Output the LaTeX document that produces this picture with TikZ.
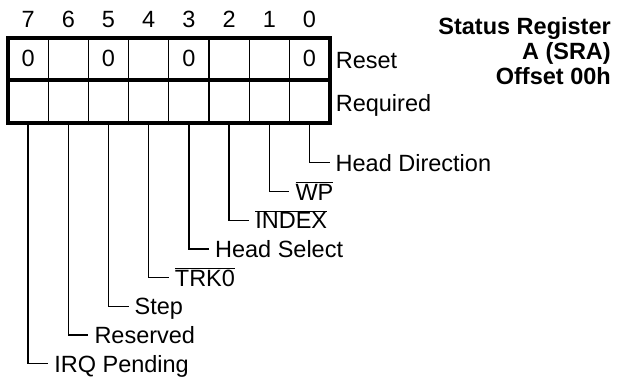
\documentclass[tikz,border=0pt]{standalone}
\usepackage{fontspec}
\setmainfont{Liberation Sans}
\usetikzlibrary{calc}
\newcommand{\negsig}[1]{$\overline{\mbox{#1}}$}

\begin{document}
\begin{tikzpicture}[x=1pt, y=-1pt,
    every node/.style={font=\fontsize{23.5}{25}\selectfont, inner sep=0pt},
    cell/.style={draw, line width=1.3pt, outer sep=0pt,
                 minimum width=40.2pt, minimum height=42.5pt},
    sig/.style={anchor=west, inner xsep=6pt, text height=21pt, text depth=4pt}]
  \useasboundingbox (0,0) rectangle (619,381);

  \foreach \b/\v in {0/0,1/{},2/{},3/0,4/{},5/0,6/{},7/0}{
    \node[cell] (r\b) at ({28.1+40.2*(7-\b)},58.75) {\v};
    \node[cell] (q\b) at ({28.1+40.2*(7-\b)},101.25) {};
    \node[anchor=base] (n\b) at ([yshift=10pt]r\b.north) {\b};}

  \draw[line width=4pt] (r7.north west) rectangle (q0.south east);
  \draw[line width=4pt] (r7.south west) -- (r0.south east);

  \node[anchor=base west, inner xsep=6pt] (reset) at ([yshift=-10pt]r0.east) {Reset};
  \node[anchor=base west, inner xsep=6pt] (req) at ([yshift=-10pt]q0.east) {Required};

  \node[anchor=north east, align=right, font=\fontsize{23.5}{25}\selectfont\bfseries]
    (title) at (611,17.6) {Status Register\\A (SRA)\\Offset 00h};

  \foreach \b/\lbl in {0/Head Direction,1/\negsig{WP},2/\negsig{INDEX},
                       3/Head Select,4/\negsig{TRK0},5/Step,6/Reserved,
                       7/IRQ Pending}{
    \node[sig] (l\b) at ($(q\b.south)+(20,{40.3+28.7*\b})$) {\lbl};
    \draw[line width=1.3pt] (q\b.south) |- (l\b.west);}
\end{tikzpicture}
\end{document}
